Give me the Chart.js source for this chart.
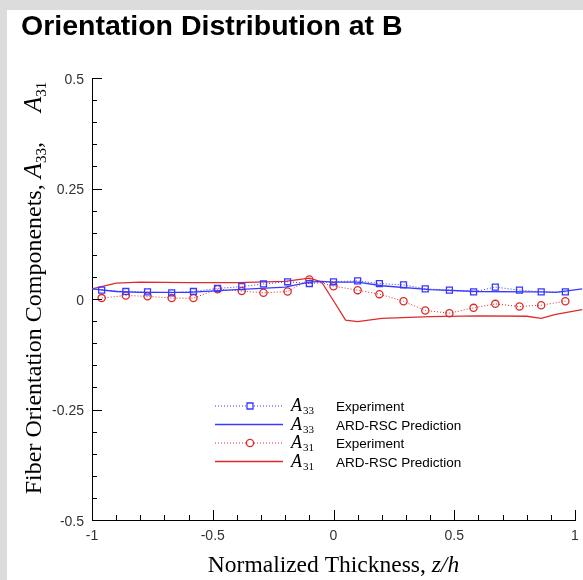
<!DOCTYPE html>
<html>
<head>
<meta charset="utf-8">
<script src="https://cdn.jsdelivr.net/npm/chart.js@4"></script>
<style>
    html, body { margin: 0; padding: 0; background: #dcdcdc; }
    canvas { display: block; }
</style>
</head>
<body>
<canvas id="orientChart" width="583" height="580"></canvas>
<script>

/* DATA */
const zExp = [-0.96, -0.86, -0.77, -0.67, -0.58, -0.48, -0.38, -0.29, -0.19, -0.10, 0.00,
              0.10, 0.19, 0.29, 0.38, 0.48, 0.58, 0.67, 0.77, 0.86, 0.96];
const a33Exp = [0.020, 0.017, 0.016, 0.014, 0.017, 0.024, 0.028, 0.034, 0.039, 0.035, 0.039,
                0.041, 0.035, 0.032, 0.023, 0.020, 0.016, 0.027, 0.020, 0.016, 0.016];
const a31Exp = [0.002, 0.008, 0.006, 0.002, 0.002, 0.022, 0.018, 0.014, 0.017, 0.044, 0.029,
                0.020, 0.011, -0.005, -0.026, -0.032, -0.020, -0.011, -0.017, -0.014, -0.005];

const zPred = [-1, -0.9, -0.8, -0.6, -0.4, -0.2, -0.1, -0.05, 0, 0.05, 0.1, 0.2, 0.4, 0.6, 0.8, 0.86, 0.92, 1.03];
const a33Pred = [0.023, 0.017, 0.015, 0.015, 0.021, 0.027, 0.038, 0.040, 0.038, 0.038, 0.038,
                 0.030, 0.021, 0.017, 0.016, 0.016, 0.015, 0.023];
const a31Pred = [0.023, 0.036, 0.038, 0.037, 0.037, 0.040, 0.047, 0.039, -0.004, -0.048, -0.051,
                 -0.044, -0.040, -0.038, -0.039, -0.044, -0.035, -0.024];

const xTickLabels = ["-1", "-0.5", "0", "0.5", "1"];
const yTickLabels = ["-0.5", "-0.25", "0", "0.25", "0.5"];

const titleText = "Orientation Distribution at B";
const xTitleText = "Normalized Thickness, ";
const xTitleItalic = "z/h";
const yTitleText = "Fiber Orientation Componenets, ";

const BLUE = "#3838ff";
const RED = "#e02a2a";

const pts = (xs, ys) => xs.map((x, i) => ({ x, y: ys[i] }));

function majorLabel(v, step, labels) {
    const k = v / step;
    if (Math.abs(k - Math.round(k)) > 1e-6) return "";
    const s = String(Math.round(v * 100) / 100);
    return labels.includes(s) ? s : "";
}

/* DECOR PLUGIN */
const decor = {
    id: "decor",
    beforeDraw(chart) {
        const ctx = chart.ctx;
        ctx.save();
        ctx.fillStyle = "#dcdcdc";
        ctx.fillRect(0, 0, chart.width, chart.height);
        ctx.fillStyle = "#ffffff";
        ctx.fillRect(7, 10, chart.width - 7, chart.height - 10);
        ctx.restore();
    },
    afterDraw(chart) {
        const ctx = chart.ctx;
        const xs = chart.scales.x;
        const ys = chart.scales.y;
        const area = chart.chartArea;

        ctx.save();

        /* inward ticks */
        ctx.strokeStyle = "#000";
        ctx.lineWidth = 1;
        ctx.beginPath();
        xs.ticks.forEach(t => {
            const px = Math.round(xs.getPixelForValue(t.value)) + 0.5;
            const len = majorLabel(t.value, 0.5, xTickLabels) ? 10 : 5;
            ctx.moveTo(px, area.bottom);
            ctx.lineTo(px, area.bottom - len);
        });
        ys.ticks.forEach(t => {
            const py = Math.round(ys.getPixelForValue(t.value)) + 0.5;
            const len = majorLabel(t.value, 0.25, yTickLabels) ? 10 : 5;
            ctx.moveTo(area.left, py);
            ctx.lineTo(area.left + len, py);
        });
        ctx.stroke();

        /* title */
        ctx.fillStyle = "#000";
        ctx.textBaseline = "alphabetic";
        ctx.textAlign = "left";
        ctx.font = "bold 28.5px 'Liberation Sans', Arial, sans-serif";
        ctx.fillText(titleText, 21, 35);

        /* x title */
        const serif = "'Liberation Serif', 'Times New Roman', serif";
        ctx.font = "23.5px " + serif;
        const w1 = ctx.measureText(xTitleText).width;
        ctx.font = "italic 23.5px " + serif;
        const w2 = ctx.measureText(xTitleItalic).width;
        let xs0 = (area.left + area.right) / 2 - (w1 + w2) / 2;
        ctx.font = "23.5px " + serif;
        ctx.fillText(xTitleText, xs0, 572);
        ctx.font = "italic 23.5px " + serif;
        ctx.fillText(xTitleItalic, xs0 + w1, 572);

        /* y title (rotated) */
        const parts = [
            { t: yTitleText, f: "24px " + serif, dy: 0 },
            { t: "A", f: "italic 25px " + serif, dy: 0 },
            { t: "33", f: "15px " + serif, dy: 5 },
            { t: ",     ", f: "24px " + serif, dy: 0 },
            { t: "A", f: "italic 25px " + serif, dy: 0 },
            { t: "31", f: "15px " + serif, dy: 5 }
        ];
        let total = 0;
        parts.forEach(p => { ctx.font = p.f; p.w = ctx.measureText(p.t).width; total += p.w; });
        ctx.save();
        ctx.translate(41, 288);
        ctx.rotate(-Math.PI / 2);
        let cx = -total / 2;
        parts.forEach(p => {
            ctx.font = p.f;
            ctx.fillText(p.t, cx, p.dy);
            cx += p.w;
        });
        ctx.restore();

        /* legend */
        const rows = [
            { sub: "33", text: "Experiment", color: BLUE, dash: [1, 2], marker: "rect" },
            { sub: "33", text: "ARD-RSC Prediction", color: BLUE, dash: [], marker: null },
            { sub: "31", text: "Experiment", color: RED, dash: [1, 2], marker: "circle" },
            { sub: "31", text: "ARD-RSC Prediction", color: RED, dash: [], marker: null }
        ];
        const rowY = [406, 424.5, 443, 461.5];
        rows.forEach((r, i) => {
            const y = rowY[i];
            ctx.strokeStyle = r.color;
            ctx.lineWidth = r.dash.length ? 1 : 1.3;
            ctx.setLineDash(r.dash);
            ctx.beginPath();
            ctx.moveTo(215, y);
            ctx.lineTo(283, y);
            ctx.stroke();
            ctx.setLineDash([]);
            if (r.marker) {
                ctx.lineWidth = 1.3;
                ctx.fillStyle = "#fff";
                ctx.beginPath();
                if (r.marker === "rect") ctx.rect(247, y - 3, 6, 6);
                else ctx.arc(250, y, 3.6, 0, Math.PI * 2);
                ctx.fill();
                ctx.stroke();
            }
            ctx.fillStyle = "#000";
            ctx.font = "italic 18px " + serif;
            ctx.fillText("A", 291, y + 5);
            ctx.font = "11px " + serif;
            ctx.fillText(r.sub, 303, y + 8);
            ctx.font = "13.5px 'Liberation Sans', Arial, sans-serif";
            ctx.fillText(r.text, 336, y + 5);
        });

        ctx.restore();
    }
};

/* CHART */
new Chart(document.getElementById("orientChart"), {
    type: "scatter",
    data: {
        datasets: [
            {
                label: "A33 Experiment",
                data: pts(zExp, a33Exp),
                showLine: true,
                borderColor: BLUE,
                backgroundColor: "rgba(0,0,0,0)",
                borderWidth: 1,
                borderDash: [1, 2],
                pointStyle: "rect",
                pointRadius: 4.2,
                pointBorderWidth: 1.3,
                pointBorderColor: BLUE,
                order: 1
            },
            {
                label: "A33 ARD-RSC Prediction",
                data: pts(zPred, a33Pred),
                showLine: true,
                borderColor: BLUE,
                borderWidth: 1.3,
                pointRadius: 0,
                clip: false,
                order: 2
            },
            {
                label: "A31 Experiment",
                data: pts(zExp, a31Exp),
                showLine: true,
                borderColor: RED,
                backgroundColor: "rgba(0,0,0,0)",
                borderWidth: 1,
                borderDash: [1, 2],
                pointStyle: "circle",
                pointRadius: 3.6,
                pointBorderWidth: 1.3,
                pointBorderColor: RED,
                order: 3
            },
            {
                label: "A31 ARD-RSC Prediction",
                data: pts(zPred, a31Pred),
                showLine: true,
                borderColor: RED,
                borderWidth: 1.3,
                pointRadius: 0,
                clip: false,
                order: 4
            }
        ]
    },
    options: {
        responsive: false,
        animation: false,
        devicePixelRatio: 1,
        layout: { padding: { top: 78, right: 8, bottom: 0, left: 0 } },
        plugins: {
            legend: { display: false },
            tooltip: { enabled: false }
        },
        scales: {
            x: {
                type: "linear",
                min: -1,
                max: 1,
                afterFit: s => { s.height = 60; },
                grid: { display: false },
                border: { display: true, color: "#000", width: 1 },
                ticks: {
                    stepSize: 0.1,
                    autoSkip: false,
                    maxRotation: 0,
                    padding: 0,
                    color: "#333",
                    font: { family: "'Liberation Sans', Arial, sans-serif", size: 14 },
                    callback: v => majorLabel(v, 0.5, xTickLabels)
                }
            },
            y: {
                type: "linear",
                min: -0.5,
                max: 0.5,
                afterFit: s => { s.width = 92; },
                grid: { display: false },
                border: { display: true, color: "#000", width: 1 },
                ticks: {
                    stepSize: 0.05,
                    autoSkip: false,
                    padding: 0,
                    labelOffset: 2,
                    color: "#333",
                    font: { family: "'Liberation Sans', Arial, sans-serif", size: 14 },
                    callback: v => majorLabel(v, 0.25, yTickLabels)
                }
            }
        }
    },
    plugins: [decor]
});

</script>
</body>
</html>
